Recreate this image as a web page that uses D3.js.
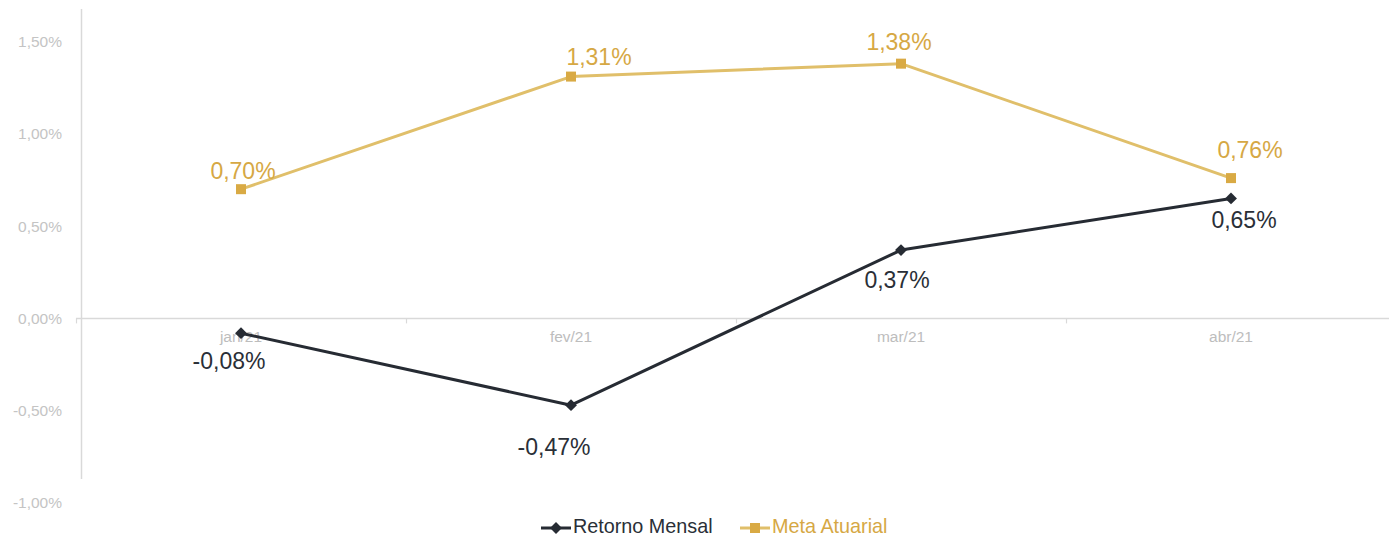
<!DOCTYPE html>
<html>
<head>
<meta charset="utf-8">
<script src="https://cdn.jsdelivr.net/npm/d3@7"></script>
<style>
  html, body { margin: 0; padding: 0; background: #ffffff; }
  svg { display: block; font-family: Arial, "Liberation Sans", sans-serif; }
</style>
</head>
<body>
<svg id="chart" width="1389" height="537"></svg>
<script>
// ---- data ----
const categories = ["jan/21", "fev/21", "mar/21", "abr/21"];
const retornoMensal = [-0.08, -0.47, 0.37, 0.65];
const metaAtuarial = [0.70, 1.31, 1.38, 0.76];
const yTicks = [-1.0, -0.5, 0.0, 0.5, 1.0, 1.5];
const seriesNames = ["Retorno Mensal", "Meta Atuarial"];

// ---- styles ----
const darkColor = "#262b33";
const goldMarker = "#d9aa44";
const goldLine = "#e0bf6a";
const goldText = "#d6a844";
const axisColor = "#d9d9d9";
const tickTextColor = "#c4c4c4";

const fmt = v => v.toFixed(2).replace(".", ",") + "%";

const svg = d3.select("#chart");

const x = d3.scaleBand().domain(categories).range([76, 1396]).padding(0);
const cx = c => x(c) + x.bandwidth() / 2;
const y = d3.scaleLinear().domain([-1.0, 1.5]).range([503, 41.5]);

// y axis line (Excel-like extent)
svg.append("line")
  .attr("x1", 81.5).attr("x2", 81.5)
  .attr("y1", 9).attr("y2", 479)
  .attr("stroke", axisColor).attr("stroke-width", 1.5);

// y axis labels
const yAxis = d3.axisLeft(y).tickValues(yTicks).tickSize(0).tickPadding(0).tickFormat(fmt);
const gy = svg.append("g").attr("transform", "translate(62,0)").call(yAxis);
gy.select(".domain").remove();
gy.selectAll("text")
  .attr("fill", tickTextColor)
  .style("font-size", "15.5px")
  .style("font-family", "Arial, 'Liberation Sans', sans-serif");

// x axis (at zero)
const gx = svg.append("g").attr("transform", `translate(0,${y(0)})`);
gx.append("line")
  .attr("x1", 76).attr("x2", 1389)
  .attr("y1", 0).attr("y2", 0)
  .attr("stroke", axisColor).attr("stroke-width", 1.5);
const edges = categories.map(c => x(c));
gx.selectAll("line.tk").data(edges).enter().append("line")
  .attr("class", "tk")
  .attr("x1", d => d + 0.5).attr("x2", d => d + 0.5)
  .attr("y1", 0).attr("y2", 5)
  .attr("stroke", axisColor).attr("stroke-width", 1.2);
gx.selectAll("text.cat").data(categories).enter().append("text")
  .attr("class", "cat")
  .attr("x", d => cx(d))
  .attr("y", 24)
  .attr("text-anchor", "middle")
  .attr("fill", "#bdbdbd")
  .style("font-size", "15.5px")
  .text(d => d);

const line = d3.line().x((d, i) => cx(categories[i])).y(d => y(d));

svg.append("path")
  .datum(metaAtuarial)
  .attr("d", line)
  .attr("fill", "none")
  .attr("stroke", goldLine)
  .attr("stroke-width", 3)
  .attr("stroke-linejoin", "round");

svg.append("path")
  .datum(retornoMensal)
  .attr("d", line)
  .attr("fill", "none")
  .attr("stroke", darkColor)
  .attr("stroke-width", 3)
  .attr("stroke-linejoin", "round");

svg.selectAll("rect.meta").data(metaAtuarial).enter().append("rect")
  .attr("class", "meta")
  .attr("x", (d, i) => cx(categories[i]) - 5)
  .attr("y", d => y(d) - 5)
  .attr("width", 10).attr("height", 10)
  .attr("fill", goldMarker);

const diamond = d3.symbol().type(d3.symbolDiamond2).size(90);
svg.selectAll("path.ret").data(retornoMensal).enter().append("path")
  .attr("class", "ret")
  .attr("d", diamond)
  .attr("transform", (d, i) => `translate(${cx(categories[i])},${y(d)})`)
  .attr("fill", darkColor);

// data labels (offsets of label centre relative to point)
const metaOff = [[2, -18], [28, -20], [-2, -22], [19, -28.5]];
const retOff = [[-12, 28], [-17, 42], [-4, 29.5], [13, 21.5]];

svg.selectAll("text.metaLbl").data(metaAtuarial).enter().append("text")
  .attr("class", "metaLbl")
  .attr("x", (d, i) => cx(categories[i]) + metaOff[i][0])
  .attr("y", (d, i) => y(d) + metaOff[i][1] + 8)
  .attr("text-anchor", "middle")
  .attr("fill", goldText)
  .style("font-size", "23px")
  .text(fmt);

svg.selectAll("text.retLbl").data(retornoMensal).enter().append("text")
  .attr("class", "retLbl")
  .attr("x", (d, i) => cx(categories[i]) + retOff[i][0])
  .attr("y", (d, i) => y(d) + retOff[i][1] + 8)
  .attr("text-anchor", "middle")
  .attr("fill", "#2a2f37")
  .style("font-size", "23px")
  .text(fmt);

// legend
const legend = svg.append("g").attr("transform", "translate(0,528)");
const legItems = [
  { name: seriesNames[0], x0: 541, color: darkColor, textColor: "#2a2f37", type: "diamond" },
  { name: seriesNames[1], x0: 740, color: goldLine, textColor: goldText, type: "square" }
];
legItems.forEach(it => {
  legend.append("line")
    .attr("x1", it.x0).attr("x2", it.x0 + 30)
    .attr("y1", 0).attr("y2", 0)
    .attr("stroke", it.color).attr("stroke-width", 3);
  if (it.type === "diamond") {
    legend.append("path").attr("d", diamond)
      .attr("transform", `translate(${it.x0 + 15},0)`)
      .attr("fill", darkColor);
  } else {
    legend.append("rect")
      .attr("x", it.x0 + 10).attr("y", -5)
      .attr("width", 10).attr("height", 10)
      .attr("fill", goldMarker);
  }
  legend.append("text")
    .attr("x", it.x0 + 32)
    .attr("y", 4.5)
    .attr("fill", it.textColor)
    .style("font-size", "19.8px")
    .text(it.name);
});
</script>
</body>
</html>
